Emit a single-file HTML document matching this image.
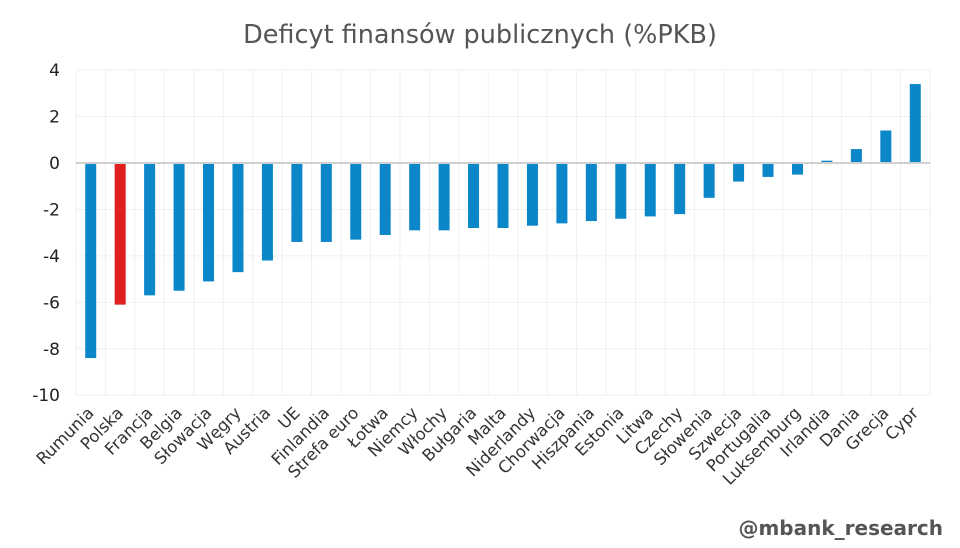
<!DOCTYPE html>
<html><head><meta charset="utf-8"><style>body{margin:0;background:#fff}svg{display:block}</style></head><body>
<svg width="960" height="548" viewBox="0 0 960 548" xmlns="http://www.w3.org/2000/svg" font-family="DejaVu Sans, Verdana, sans-serif">
<rect width="960" height="548" fill="#fff"/>
<text x="480" y="43" text-anchor="middle" font-size="25.5" fill="#555">Deficyt finansów publicznych (%PKB)</text>
<g id="grid" stroke="#f0f0f0" stroke-width="1"></g>
<g id="bars"></g>
<line x1="76" x2="930" y1="163" y2="163" stroke="#d0d0d0" stroke-width="2"/>
<g id="yl" font-size="17" fill="#222" text-anchor="end"></g>
<g id="xl" font-size="16.5" fill="#333" text-anchor="end"></g>
<text x="943" y="535" text-anchor="end" font-size="20" font-weight="bold" fill="#555">@mbank_research</text>
<script>
const n=["Rumunia","Polska","Francja","Belgia","Słowacja","Węgry","Austria","UE","Finlandia","Strefa euro","Łotwa","Niemcy","Włochy","Bułgaria","Malta","Niderlandy","Chorwacja","Hiszpania","Estonia","Litwa","Czechy","Słowenia","Szwecja","Portugalia","Luksemburg","Irlandia","Dania","Grecja","Cypr"];
const v=[-8.4,-6.1,-5.7,-5.5,-5.1,-4.7,-4.2,-3.4,-3.4,-3.3,-3.1,-2.9,-2.9,-2.8,-2.8,-2.7,-2.6,-2.5,-2.4,-2.3,-2.2,-1.5,-0.8,-0.6,-0.5,0.1,0.6,1.4,3.4];
const L=76,R=930,w=(R-L)/29,y0=163,u=23.22,NS="http://www.w3.org/2000/svg";
function el(t,a,p,txt){const e=document.createElementNS(NS,t);for(const k in a)e.setAttribute(k,a[k]);if(txt)e.textContent=txt;document.getElementById(p).appendChild(e);}
for(let k=-10;k<=4;k+=2){const y=y0-k*u;el("line",{x1:L,x2:R,y1:y,y2:y},"grid");el("text",{x:60,y:y+6},"yl",String(k));}
for(let i=0;i<=29;i++){const x=L+i*w;el("line",{x1:x,x2:x,y1:70,y2:395},"grid");}
v.forEach((d,i)=>{const c=L+w*(i+0.5),h=Math.abs(d)*u;el("rect",{x:c-5.5,y:d<0?y0:y0-h,width:11,height:h,fill:i==1?"#e01e1e":"#0a86c9"},"bars");
el("text",{x:c+4,y:414,transform:`rotate(-45 ${c+4} 414)`},"xl",n[i]);});
</script>
</svg>
</body></html>
